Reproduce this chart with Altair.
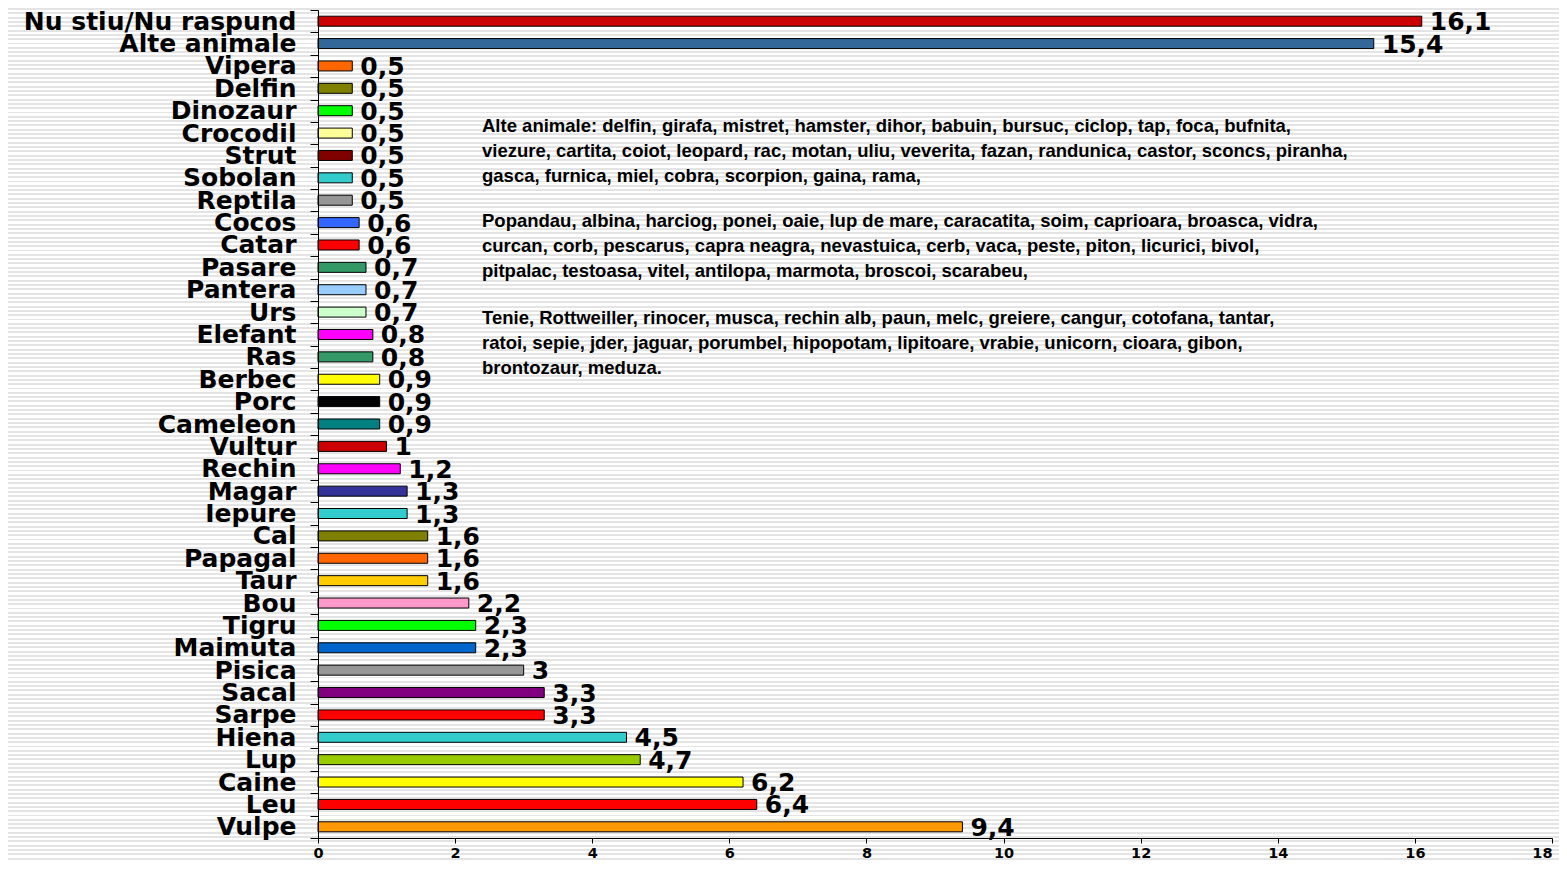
import altair as alt
import pandas as pd

categories = ["Nu stiu/Nu raspund", "Alte animale", "Vipera", "Delfin", "Dinozaur", "Crocodil",
              "Strut", "Sobolan", "Reptila", "Cocos", "Catar", "Pasare", "Pantera", "Urs",
              "Elefant", "Ras", "Berbec", "Porc", "Cameleon", "Vultur", "Rechin", "Magar",
              "Iepure", "Cal", "Papagal", "Taur", "Bou", "Tigru", "Maimuta", "Pisica", "Sacal",
              "Sarpe", "Hiena", "Lup", "Caine", "Leu", "Vulpe"]
values = [16.1, 15.4, 0.5, 0.5, 0.5, 0.5, 0.5, 0.5, 0.5, 0.6, 0.6, 0.7, 0.7, 0.7, 0.8, 0.8,
          0.9, 0.9, 0.9, 1, 1.2, 1.3, 1.3, 1.6, 1.6, 1.6, 2.2, 2.3, 2.3, 3, 3.3, 3.3, 4.5,
          4.7, 6.2, 6.4, 9.4]
colors = ["#CC0000", "#336699", "#FF6600", "#808000", "#00FF00", "#FFFF99", "#800000",
          "#33CCCC", "#969696", "#3366FF", "#FF0000", "#339966", "#99CCFF", "#CCFFCC",
          "#FF00FF", "#339966", "#FFFF00", "#000000", "#008080", "#CC0000", "#FF00FF",
          "#333399", "#33CCCC", "#808000", "#FF6600", "#FFCC00", "#FF99CC", "#00FF00",
          "#0066CC", "#969696", "#800080", "#FF0000", "#33CCCC", "#99CC00", "#FFFF00",
          "#FF0000", "#FF9900"]
x_ticks = [0, 2, 4, 6, 8, 10, 12, 14, 16, 18]

note_1 = ["Alte animale: delfin, girafa, mistret, hamster, dihor, babuin, bursuc, ciclop, tap, foca, bufnita,",
          "viezure, cartita, coiot, leopard, rac, motan, uliu, veverita, fazan, randunica, castor, sconcs, piranha,",
          "gasca, furnica, miel, cobra, scorpion, gaina, rama,"]
note_2 = ["Popandau, albina, harciog, ponei, oaie, lup de mare, caracatita, soim, caprioara, broasca, vidra,",
          "curcan, corb, pescarus, capra neagra, nevastuica, cerb, vaca, peste, piton, licurici, bivol,",
          "pitpalac, testoasa, vitel, antilopa, marmota, broscoi, scarabeu,"]
note_3 = ["Tenie, Rottweiller, rinocer, musca, rechin alb, paun, melc, greiere, cangur, cotofana, tantar,",
          "ratoi, sepie, jder, jaguar, porumbel, hipopotam, lipitoare, vrabie, unicorn, cioara, gibon,",
          "brontozaur, meduza."]

df = pd.DataFrame({"animal": categories, "value": values, "color": colors})
df["label"] = [f"{v:g}".replace(".", ",") for v in values]

W, H = 1234, 828

# striped background (style only)
N = 198
stops = []
for i in range(N):
    a, b, c = i / N, (i + 0.45) / N, (i + 1) / N
    stops += [{"offset": a, "color": "#e4e4e4"}, {"offset": b, "color": "#e4e4e4"},
              {"offset": b, "color": "#ffffff"}, {"offset": c, "color": "#ffffff"}]
grad = {"gradient": "linear", "x1": 0, "y1": 0, "x2": 0, "y2": 1, "stops": stops}

bg = alt.Chart(alt.Data(values=[{}])).mark_rect(fill=grad).encode(
    x=alt.value(-310), x2=alt.value(W + 7), y=alt.value(-2), y2=alt.value(H + 24)
)

y_enc = alt.Y("animal:N", sort=categories, title=None,
              scale=alt.Scale(paddingInner=0, paddingOuter=0),
              axis=alt.Axis(labelFont="DejaVu Sans", labelFontWeight="bold", labelFontSize=25,
                            labelColor="black", labelPadding=14, tickSize=8, tickColor="black",
                            domainColor="black", tickBand="extent", labelOverlap=False,
                            labelLimit=400, zindex=1))
x_enc = alt.X("value:Q", title=None,
              scale=alt.Scale(domain=[0, 18], nice=False),
              axis=alt.Axis(values=x_ticks, format="d", labelFont="DejaVu Sans",
                            labelFontWeight="bold", labelFontSize=14.5, labelColor="black",
                            labelPadding=3, tickSize=5, tickColor="black", domainColor="black",
                            labelFlush=False, grid=False, zindex=1,
                            labelAlign=alt.condition("datum.value >= 18",
                                                     alt.value("right"), alt.value("center"))))

bars = alt.Chart(df).mark_bar(size=10, stroke="black", strokeWidth=1).encode(
    y=y_enc, x=x_enc, color=alt.Color("color:N", scale=None)
)

labels = alt.Chart(df).mark_text(align="left", baseline="middle", dx=8, dy=1,
                                 font="DejaVu Sans", fontWeight="bold", fontSize=25,
                                 color="black").encode(
    y=alt.Y("animal:N", sort=categories), x="value:Q", text="label:N"
)

def note(lines, yc):
    return alt.Chart(alt.Data(values=[{}])).mark_text(
        align="left", baseline="middle", font="Liberation Sans", fontWeight="bold",
        fontSize=18.5, lineHeight=25, color="black"
    ).encode(x=alt.value(164), y=alt.value(yc), text=alt.value(lines))

chart = alt.layer(bg, bars, labels, note(note_1, 116), note(note_2, 211),
                  note(note_3, 308)).properties(
    width=W, height=H, autosize=alt.AutoSizeParams(type="none"),
    padding={"left": 310, "top": 2, "right": 7, "bottom": 24}
).configure_view(stroke=None).configure(background="white")

chart.save("out.html", embed_options={"renderer": "svg", "actions": False})
